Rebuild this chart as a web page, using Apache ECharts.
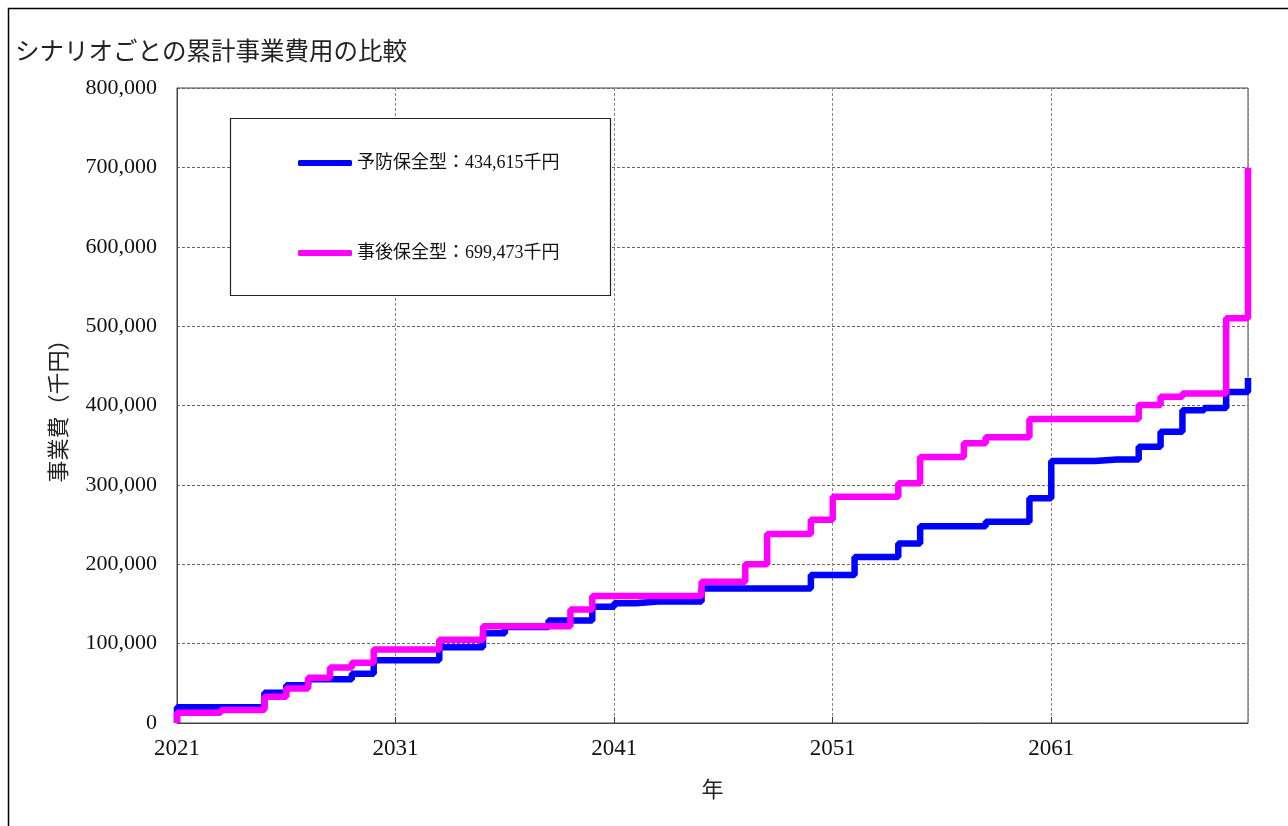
<!DOCTYPE html>
<html>
<head>
<meta charset="utf-8">
<script src="https://cdn.jsdelivr.net/npm/echarts@6/dist/echarts.min.js"></script>
<style>
  html, body { margin: 0; padding: 0; background: #fff; }
  #chart { width: 1288px; height: 826px; }
</style>
</head>
<body>
<div id="chart"></div>
<script>
// 年（各年の値は次の年まで続く）
var years = []
for (var y = 2021; y <= 2070; y++) years.push(y)

// 予防保全型 累計事業費（千円）
var preventive = [
  20000, 20000, 20000, 20000, 38000, 47500, 55000, 55000, 62000, 79000,
  79000, 79000, 95500, 95500, 113000, 121000, 121000, 129000, 129000, 146500,
  151000, 153000, 153000, 153000, 169500, 169500, 169500, 169500, 169500, 186500,
  186500, 209000, 209000, 226000, 248000, 248000, 248000, 253500, 253500, 283000,
  330000, 330000, 332000, 332000, 348000, 367000, 394000, 397000, 417000, 434615
]

// 事後保全型 累計事業費（千円）
var corrective = [
  13000, 13000, 16500, 16500, 33000, 43500, 57000, 70000, 76000, 92500,
  92500, 92500, 105000, 105000, 122000, 122000, 122000, 122000, 143000, 160000,
  160000, 160000, 160000, 160000, 178000, 178000, 200000, 238000, 238000, 256000,
  285000, 285000, 285000, 302000, 335000, 335000, 352500, 360000, 360000, 383000,
  383000, 383000, 383000, 383000, 400500, 411000, 415000, 415000, 510000, 699473
]

var seriesNames = ['予防保全型：434,615千円', '事後保全型：699,473千円']

function toSteps(vals) {
  var pts = [[years[0], 0]]
  for (var i = 0; i < years.length; i++) pts.push([years[i], vals[i]])
  return pts
}

var mycharts = echarts.init(document.getElementById('chart'))
var serif = 'Liberation Serif, "Noto Sans CJK JP", serif'
var option = {
  backgroundColor: '#fff',
  animation: false,
  title: {
    text: 'シナリオごとの累計事業費用の比較',
    left: 10,
    top: 33,
    textStyle: { fontFamily: '"Noto Sans CJK JP"', fontSize: 24.5, fontWeight: 'normal', color: '#222' }
  },
  graphic: [
    {
      type: 'polyline',
      shape: { points: [[8.5, 830], [8.5, 8.5], [1300, 8.5]] },
      style: { fill: null, stroke: '#000', lineWidth: 1.5 },
      silent: true
    },
    {
      type: 'rect',
      shape: { x: 230.5, y: 118.5, width: 380, height: 177 },
      style: { fill: '#fff', stroke: '#222', lineWidth: 1.2 },
      z: 5,
      silent: true
    }
  ],
  legend: {
    data: seriesNames,
    orient: 'vertical',
    left: 293,
    top: 148,
    icon: 'roundRect',
    itemWidth: 54,
    itemHeight: 6,
    itemGap: 70,
    z: 10,
    textStyle: { fontFamily: serif, fontSize: 18, color: '#111', lineHeight: 20 }
  },
  grid: { left: 177, right: 40, top: 88, bottom: 103, show: true, borderColor: '#444', borderWidth: 1 },
  xAxis: {
    type: 'value',
    min: 2021,
    max: 2070,
    interval: 10,
    name: '年',
    nameLocation: 'middle',
    nameGap: 55,
    nameTextStyle: { fontFamily: '"Noto Sans CJK JP"', fontSize: 22, color: '#222' },
    axisLine: { lineStyle: { color: '#444' } },
    axisTick: { inside: true, length: 6, lineStyle: { color: '#333' } },
    axisLabel: {
      margin: 14,
      fontFamily: serif,
      fontSize: 23,
      color: '#111',
      showMaxLabel: false,
      formatter: function (v) { return String(v) }
    },
    splitLine: { show: true, lineStyle: { color: '#888', type: [3, 2], width: 1 } }
  },
  yAxis: {
    type: 'value',
    min: 0,
    max: 800000,
    interval: 100000,
    name: '事業費（千円）',
    nameLocation: 'middle',
    nameRotate: 90,
    nameGap: 108,
    nameTextStyle: { fontFamily: '"Noto Sans CJK JP"', fontSize: 22, color: '#222' },
    axisLine: { show: true, lineStyle: { color: '#444' } },
    axisTick: { show: false },
    axisLabel: {
      margin: 20,
      fontFamily: serif,
      fontSize: 22,
      color: '#111',
      formatter: function (v) { return v.toLocaleString('en-US') }
    },
    splitLine: { show: true, lineStyle: { color: '#666', type: [3, 2], width: 1 } }
  },
  series: [
    {
      name: seriesNames[0],
      type: 'line',
      step: 'end',
      symbol: 'none',
      lineStyle: { color: '#0000ff', width: 6.5 },
      itemStyle: { color: '#0000ff' },
      data: toSteps(preventive)
    },
    {
      name: seriesNames[1],
      type: 'line',
      step: 'end',
      symbol: 'none',
      lineStyle: { color: '#ff00ff', width: 6.5 },
      itemStyle: { color: '#ff00ff' },
      data: toSteps(corrective)
    }
  ]
}
mycharts.setOption(option)
</script>
</body>
</html>
